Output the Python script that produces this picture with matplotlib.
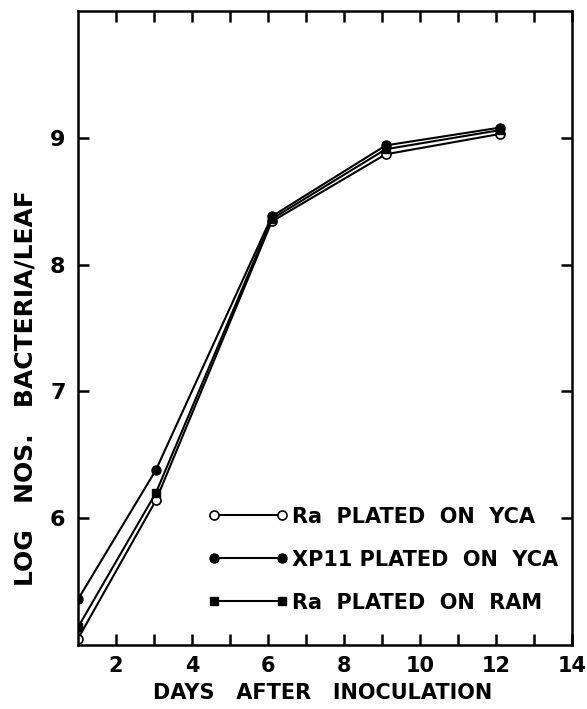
import numpy as np
import matplotlib.pyplot as plt
from matplotlib.ticker import FixedLocator
from matplotlib.legend_handler import HandlerLine2D

plt.rcParams['font.family'] = ['DejaVu Sans']
plt.rcParams['font.weight'] = 'bold'

# days after inoculation
days = [1.0, 3.05, 6.1, 9.1, 12.1]

# log nos. bacteria / leaf
ra_yca = [5.05, 6.14, 8.34, 8.87, 9.03]    # open circles
xp11_yca = [5.36, 6.38, 8.38, 8.94, 9.08]  # filled circles
ra_ram = [5.14, 6.20, 8.36, 8.91, 9.06]    # filled squares

labels = ['Ra  PLATED  ON  YCA', 'XP11 PLATED  ON  YCA', 'Ra  PLATED  ON  RAM']

fig = plt.figure(figsize=(5.87, 7.09), dpi=100)
ax = fig.add_axes([0.1329, 0.0903, 0.8415, 0.8942])

l1, = ax.plot(days, ra_yca, '-', color='black', lw=1.5, marker='o', ms=6.5,
              mfc='white', mec='black', mew=1.2, label=labels[0])
l2, = ax.plot(days, xp11_yca, '-', color='black', lw=1.5, marker='o', ms=6.5,
              mfc='black', mec='black', label=labels[1])
l3, = ax.plot(days, ra_ram, '-', color='black', lw=1.5, marker='s', ms=6,
              mfc='black', mec='black', label=labels[2])

ax.set_xlim(1, 14)
ax.set_ylim(5, 10)
ax.xaxis.set_major_locator(FixedLocator([2, 4, 6, 8, 10, 12, 14]))
ax.xaxis.set_minor_locator(FixedLocator([3, 5, 7, 9, 11, 13]))
ax.yaxis.set_major_locator(FixedLocator([6, 7, 8, 9]))

for s in ax.spines.values():
    s.set_linewidth(1.8)
ax.tick_params(which='both', direction='in', length=8, width=1.8,
               top=True, right=True, labelsize=15, pad=8)
ax.tick_params(which='minor', labelbottom=False)
ax.tick_params(axis='y', labelsize=16, pad=9)

ax.set_xlabel('DAYS   AFTER   INOCULATION', fontsize=15, fontweight='bold')
ax.xaxis.set_label_coords(0.495, -0.0757)
ax.xaxis.label.set_va('center')
ax.set_ylabel('LOG   NOS.   BACTERIA/LEAF', fontsize=18, fontweight='bold')
ax.yaxis.set_label_coords(-0.107, 0.406)
ax.yaxis.label.set_va('center')

hm = {h: HandlerLine2D(marker_pad=0) for h in (l1, l2, l3)}
ax.legend(loc='upper left', bbox_to_anchor=(0.275, 0.218), frameon=False,
          numpoints=2, handlelength=3.27, handletextpad=0.5, labelspacing=1.1,
          borderpad=0, borderaxespad=0, handler_map=hm,
          prop={'size': 15, 'weight': 'bold'})

fig.savefig('out.png', dpi=100)
